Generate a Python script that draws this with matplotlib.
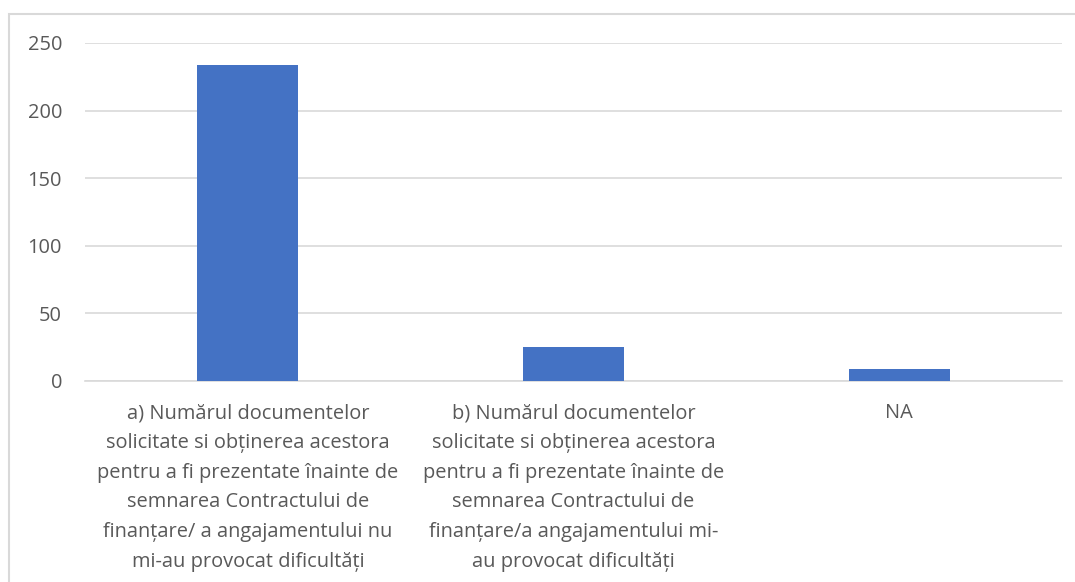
import matplotlib.pyplot as plt
from matplotlib.patches import Rectangle

# Data
categories = [
    "a) Numărul documentelor\nsolicitate si obținerea acestora\npentru a fi prezentate înainte de\nsemnarea Contractului de\nfinanțare/ a angajamentului nu\nmi-au provocat dificultăți",
    "b) Numărul documentelor\nsolicitate si obținerea acestora\npentru a fi prezentate înainte de\nsemnarea Contractului de\nfinanțare/a angajamentului mi-\nau provocat dificultăți",
    "NA",
]
values = [234, 25, 9]
y_ticks = [0, 50, 100, 150, 200, 250]

plt.rcParams['font.family'] = ['Open Sans', 'DejaVu Sans']
text_color = '#595959'
grid_color = '#d9d9d9'

fig = plt.figure(figsize=(10.75, 5.82), dpi=100)
ax = fig.add_axes([85 / 1075, 1 - 381 / 582, (1062 - 85) / 1075, (381 - 43) / 582])

# Outer chart border (cropped at right and bottom like the original)
fig.patches.append(Rectangle((8.5 / 1075, -0.1), 1.2, 1 - 13.5 / 582 + 0.1,
                             transform=fig.transFigure, fill=False,
                             edgecolor=grid_color, linewidth=1.5))

x = range(len(categories))
ax.bar(x, values, width=0.31, color='#4472C4', zorder=3)

ax.set_xlim(-0.5, len(categories) - 0.5)
ax.set_ylim(0, 250)
ax.set_yticks(y_ticks)
ax.set_xticks(list(x))
ax.set_xticklabels(categories, linespacing=1.65)

ax.grid(axis='y', color=grid_color, linewidth=1.2, zorder=0)
for side in ['top', 'right', 'left']:
    ax.spines[side].set_visible(False)
ax.spines['bottom'].set_color(grid_color)
ax.spines['bottom'].set_linewidth(1.2)

ax.tick_params(axis='both', length=0, labelsize=14.4, labelcolor=text_color)
ax.tick_params(axis='y', pad=16.5)
ax.tick_params(axis='x', pad=16)

fig.savefig('out.png', dpi=100)
